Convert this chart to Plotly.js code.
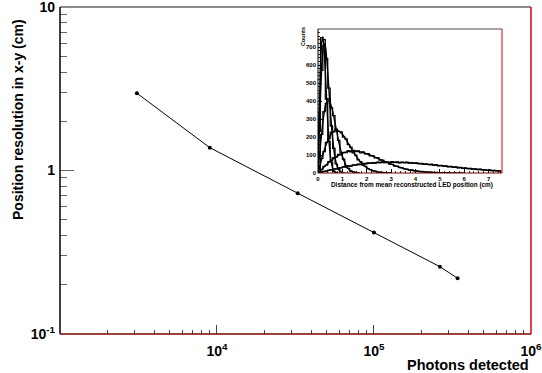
<!DOCTYPE html>
<html>
<head>
<meta charset="utf-8">
<script src="https://cdn.plot.ly/plotly-3.0.1.min.js"></script>
<style>html,body{margin:0;padding:0;background:#fff;}#chart{width:542px;height:373px;}</style>
</head>
<body>
<div id="chart"></div>
<script>
// ---- main graph data ----
const photons = [3090, 9000, 32700, 100000, 263000, 341000];
const resolution = [2.97, 1.38, 0.726, 0.417, 0.258, 0.219];

// ---- inset histograms (bin width 0.1 cm, starting at 0) ----
const binWidth = 0.1;
const hist1 = [336, 752, 741, 410, 176, 61, 9, 3];
const hist2 = [231, 570, 708, 636, 471, 262, 137, 50, 22, 5, 1];
const hist3 = [84, 215, 341, 386, 414, 362, 319, 236, 181, 111, 77, 40, 26, 10, 7, 2, 1];
const hist4 = [24, 81, 119, 170, 191, 227, 229, 244, 231, 228, 199, 190, 158, 144, 112, 99, 73, 63, 43, 37, 24, 19, 11, 10, 5, 5, 2, 2, 1, 0];
const hist5 = [9, 18, 37, 44, 63, 68, 86, 88, 104, 101, 115, 113, 124, 117, 126, 119, 123, 112, 118, 106, 108, 95, 97, 84, 85, 71, 72, 60, 59, 49, 48, 38, 39, 30, 29, 23, 22, 16, 17, 11, 12, 9, 9, 6, 7, 4, 5, 2, 4, 1, 2, 1, 1, 0];
const hist6 = [1, 6, 9, 11, 16, 17, 22, 23, 28, 29, 35, 33, 40, 38, 45, 43, 49, 47, 53, 50, 56, 53, 58, 55, 60, 57, 62, 58, 61, 57, 63, 59, 62, 56, 61, 57, 60, 55, 58, 53, 56, 52, 54, 48, 51, 46, 49, 43, 46, 40, 43, 38, 40, 34, 37, 31, 34, 29, 31, 26, 28, 24, 26, 21, 23, 19, 21, 17, 19, 15, 17, 13, 15, 11, 12];

// ---- inset fit curves ----
const fit1X = [0, 0.05, 0.1, 0.15, 0.2, 0.25, 0.3, 0.35, 0.4, 0.45, 0.5, 0.6, 0.7, 0.8];
const fit1Y = [0, 318, 573, 722, 757, 692, 567, 421, 287, 179, 103, 27, 5, 0];
const fit2X = [0, 0.05, 0.1, 0.15, 0.2, 0.25, 0.3, 0.35, 0.4, 0.45, 0.5, 0.55, 0.6, 0.7, 0.8, 0.9, 1.0];
const fit2Y = [0, 225, 425, 582, 681, 720, 706, 647, 560, 459, 359, 269, 191, 86, 32, 10, 3];
const fit3X = [0, 0.05, 0.15, 0.25, 0.35, 0.45, 0.55, 0.65, 0.75, 0.85, 0.95, 1.05, 1.15, 1.25, 1.35, 1.45, 1.55, 1.65];
const fit3Y = [0, 79, 223, 333, 393, 402, 370, 312, 242, 174, 117, 73, 43, 24, 12, 6, 3, 1];
const fit4X = [0, 0.25, 0.5, 0.75, 1.0, 1.25, 1.5, 1.75, 2.0, 2.25, 2.5, 2.75, 3.0];
const fit4Y = [0, 124, 209, 238, 215, 163, 106, 60, 30, 13, 5, 2, 0];
const fit5X = [0, 0.25, 0.5, 0.75, 1.0, 1.25, 1.5, 1.75, 2.0, 2.25, 2.5, 2.75, 3.0, 3.25, 3.5, 4.0, 4.5, 5.0, 5.5, 6.0];
const fit5Y = [0, 34, 65, 91, 109, 120, 122, 117, 107, 94, 79, 63, 49, 37, 26, 12, 5, 2, 0.5, 0];
const fit6X = [0, 0.5, 1.0, 1.5, 2.0, 2.5, 3.0, 3.5, 4.0, 4.5, 5.0, 5.5, 6.0, 6.5, 7.0, 7.5];
const fit6Y = [0, 16, 31, 44, 53, 58, 60, 58, 54, 48, 41, 34, 27, 21, 15, 11];

// ---- tick labels ----
const xTickVals = [1e4, 1e5, 1e6];
const xTickText = ['10<sup>4</sup>', '10<sup>5</sup>', '10<sup>6</sup>'];
const yTickVals = [0.1, 1, 10];
const yTickText = ['10<sup>-1</sup>', '1', '10'];
const insetXTicks = [0, 1, 2, 3, 4, 5, 6, 7];
const insetYTicks = [0, 100, 200, 300, 400, 500, 600, 700];

// ---- layout geometry (pixels) ----
const L = 60, R = 531, T = 7, B = 334;
const px = x => (x - L) / (R - L);
const py = y => (B - y) / (B - T);
const FONT = 'Liberation Sans, Arial, Helvetica, sans-serif';

function stepTrace(counts) {
  const xs = [0], ys = [0];
  counts.forEach((c, i) => { xs.push(i * binWidth); ys.push(c); });
  xs.push(counts.length * binWidth); ys.push(counts[counts.length - 1]);
  xs.push(counts.length * binWidth); ys.push(0);
  return {x: xs, y: ys, xaxis: 'x2', yaxis: 'y2', type: 'scatter', mode: 'lines',
          line: {shape: 'hv', color: '#000', width: 1.2}, hoverinfo: 'skip'};
}
function fitTrace(xs, ys) {
  return {x: xs, y: ys, xaxis: 'x2', yaxis: 'y2', type: 'scatter', mode: 'lines',
          line: {shape: 'spline', smoothing: 0.8, color: '#000', width: 1.4}, hoverinfo: 'skip'};
}

function logMinor(decStart, decEnd) {
  const v = [];
  for (let d = decStart; d < decEnd; d++) for (let m = 2; m <= 9; m++) v.push(m * Math.pow(10, d));
  return v;
}

const traces = [
  {x: photons, y: resolution, type: 'scatter', mode: 'lines+markers',
   line: {color: '#000', width: 1}, marker: {color: '#000', size: 4, symbol: 'circle'}},
  stepTrace(hist6), stepTrace(hist5), stepTrace(hist4), stepTrace(hist3), stepTrace(hist2), stepTrace(hist1),
  fitTrace(fit6X, fit6Y), fitTrace(fit5X, fit5Y), fitTrace(fit4X, fit4Y),
  fitTrace(fit3X, fit3Y), fitTrace(fit2X, fit2Y), fitTrace(fit1X, fit1Y)
];

function frame(xref, yref, w) {
  return [
    {type: 'line', xref, yref, x0: 0, x1: 1, y0: 1, y1: 1, line: {color: '#8a8a8a', width: w.top}, layer: 'above'},
    {type: 'line', xref, yref, x0: 0, x1: 0, y0: 0, y1: 1, line: {color: '#000', width: w.side}, layer: 'above'},
    {type: 'line', xref, yref, x0: 0, x1: 1, y0: 0, y1: 0, line: {color: '#7a0000', width: w.side}, layer: 'above'},
    {type: 'line', xref, yref, x0: 1, x1: 1, y0: 0, y1: 1, line: {color: '#e00000', width: w.side}, layer: 'above'}
  ];
}

const layout = {
  width: 542, height: 373,
  margin: {l: L, r: 542 - R, t: T, b: 373 - B, pad: 0},
  paper_bgcolor: '#fff', plot_bgcolor: '#fff',
  showlegend: false,
  font: {family: FONT, color: '#000'},
  xaxis: {
    type: 'log', range: [3, 6.0005], domain: [0, 1],
    showgrid: false, zeroline: false, showline: false,
    ticks: 'inside', ticklen: 9, tickwidth: 1, tickcolor: '#444',
    tickvals: xTickVals, ticktext: xTickText, ticklabeloverflow: 'allow',
    tickfont: {family: FONT, size: 14, weight: 'bold', color: '#000'},
    ticklabelstandoff: 7,
    minor: {tickvals: logMinor(3, 6), ticks: 'inside', ticklen: 4.5, tickwidth: 1, tickcolor: '#444', showgrid: false}
  },
  yaxis: {
    type: 'log', range: [-1.0005, 1.0005], domain: [0, 1],
    showgrid: false, zeroline: false, showline: false,
    ticks: 'inside', ticklen: 14, tickwidth: 1, tickcolor: '#666',
    tickvals: yTickVals, ticktext: yTickText, ticklabeloverflow: 'allow',
    tickfont: {family: FONT, size: 14, weight: 'bold', color: '#000'},
    ticklabelstandoff: 4,
    minor: {tickvals: logMinor(-1, 1), ticks: 'inside', ticklen: 7, tickwidth: 1, tickcolor: '#666', showgrid: false}
  },
  xaxis2: {
    domain: [px(318), px(502)], anchor: 'y2', range: [0, 7.55],
    showgrid: false, zeroline: false, showline: false,
    ticks: 'inside', ticklen: 4, tickwidth: 1, tickcolor: '#000',
    tickvals: insetXTicks, ticklabeloverflow: 'allow',
    tickfont: {family: FONT, size: 6, weight: 'bold', color: '#000'},
    ticklabelstandoff: 1,
    minor: {dtick: 0.2, ticks: 'inside', ticklen: 2, tickwidth: 0.8, tickcolor: '#000', showgrid: false}
  },
  yaxis2: {
    domain: [py(173), py(29)], anchor: 'x2', range: [0, 800],
    showgrid: false, zeroline: false, showline: false,
    ticks: 'inside', ticklen: 4, tickwidth: 1, tickcolor: '#000',
    tickvals: insetYTicks, ticklabeloverflow: 'allow',
    tickfont: {family: FONT, size: 6, weight: 'bold', color: '#000'},
    ticklabelstandoff: 1,
    minor: {dtick: 20, ticks: 'inside', ticklen: 2, tickwidth: 0.8, tickcolor: '#000', showgrid: false}
  },
  shapes: [].concat(
    frame('paper', 'paper', {top: 2, side: 1.5}),
    frame('x2 domain', 'y2 domain', {top: 1.5, side: 1})
  ),
  annotations: [
    {text: 'Position resolution in x-y (cm)', xref: 'paper', yref: 'paper', x: px(18), y: py(120),
     xanchor: 'center', yanchor: 'middle', textangle: -90, showarrow: false,
     font: {family: FONT, size: 14, weight: 'bold', color: '#000'}},
    {text: 'Photons detected', xref: 'paper', yref: 'paper', x: px(531), y: py(365),
     xanchor: 'right', yanchor: 'middle', showarrow: false,
     font: {family: FONT, size: 14.5, weight: 'bold', color: '#000'}},
    {text: 'Distance from mean reconstructed LED position (cm)', xref: 'paper', yref: 'paper', x: px(412), y: py(185),
     xanchor: 'center', yanchor: 'middle', showarrow: false,
     font: {family: FONT, size: 6.4, weight: 'bold', color: '#000'}},
    {text: 'Counts', xref: 'paper', yref: 'paper', x: px(303), y: py(37),
     xanchor: 'center', yanchor: 'middle', textangle: -90, showarrow: false,
     font: {family: FONT, size: 5.5, weight: 'bold', color: '#000'}}
  ]
};

Plotly.newPlot('chart', traces, layout, {displayModeBar: false, staticPlot: true});
</script>
</body>
</html>
